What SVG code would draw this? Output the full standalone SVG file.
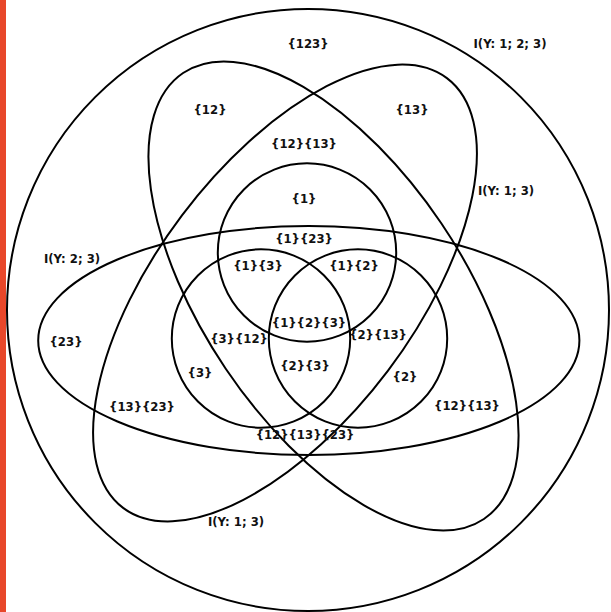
<svg xmlns="http://www.w3.org/2000/svg" width="611" height="612" viewBox="0 0 611 612">
<style>
.s{fill:none;stroke:#000;stroke-width:2}
text{font-family:"DejaVu Sans",sans-serif;font-weight:bold;font-size:11.7px;fill:#111;text-anchor:middle}
</style>
<rect x="0" y="0" width="611" height="612" fill="#fff"/>
<rect x="0" y="0" width="6" height="612" fill="#e8472a"/>
<g id="shapes">
<g id="outer"><circle class="s" cx="308" cy="310" r="301"/></g>
<g id="ellA"><ellipse class="s" cx="333.5" cy="296" rx="269" ry="130" transform="rotate(56 333.5 296)"/></g>
<g id="ellB"><ellipse class="s" cx="285" cy="293" rx="269" ry="129" transform="rotate(-53 285 293)"/></g>
<g id="ell23"><ellipse class="s" cx="308.8" cy="340.5" rx="270.6" ry="114.5"/></g>
<g id="c1"><circle class="s" cx="307" cy="252.5" r="89.2"/></g>
<g id="c3"><circle class="s" cx="261" cy="338.5" r="89.2"/></g>
<g id="c2"><circle class="s" cx="358" cy="338.5" r="89.2"/></g>
</g>
<g id="labels" transform="translate(0 1)">
<text x="308" y="47">{123}</text>
<text x="510" y="47">I(Y: 1; 2; 3)</text>
<text x="210" y="113">{12}</text>
<text x="412" y="113">{13}</text>
<text x="304" y="147">{12}{13}</text>
<text x="304" y="202">{1}</text>
<text x="506" y="194">I(Y: 1; 3)</text>
<text x="304" y="242">{1}{23}</text>
<text x="72" y="262">I(Y: 2; 3)</text>
<text x="258" y="269">{1}{3}</text>
<text x="354" y="269">{1}{2}</text>
<text x="309" y="326">{1}{2}{3}</text>
<text x="378" y="338">{2}{13}</text>
<text x="239" y="342">{3}{12}</text>
<text x="66" y="345">{23}</text>
<text x="305" y="369">{2}{3}</text>
<text x="200" y="376">{3}</text>
<text x="405" y="380">{2}</text>
<text x="142" y="410">{13}{23}</text>
<text x="467" y="409">{12}{13}</text>
<text x="305" y="438">{12}{13}{23}</text>
<text x="236" y="525">I(Y: 1; 3)</text>
</g>
</svg>
